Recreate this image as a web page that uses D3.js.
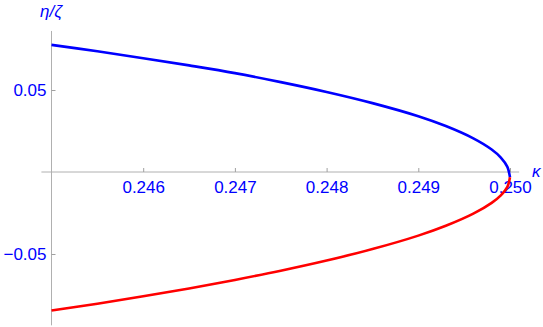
<!DOCTYPE html>
<html lang="en">
<head>
<meta charset="utf-8">
<title>eta/zeta vs kappa</title>
<style>
  body { margin: 0; background: #fff; }
  svg { display: block; font-family: "Liberation Sans", Arial, sans-serif; }
  .tick text { fill: #0000ff; font-size: 17px; font-family: "Liberation Sans", Arial, sans-serif; }
  .tick line { stroke: #a0a0a0; }
</style>
</head>
<body>
<svg></svg>
<script src="https://d3js.org/d3.v7.min.js"></script>
<script>
// kappa sample points (shared by both branches)
var kappa = [0.245, 0.2455, 0.246, 0.2465, 0.247, 0.2475, 0.248, 0.2485, 0.249, 0.2493, 0.2496, 0.2498, 0.2499, 0.24997, 0.25];
// upper branch (blue), eta/zeta
var etaUpper = [0.0775, 0.0736, 0.0694, 0.0650, 0.0603, 0.0548, 0.0488, 0.0420, 0.0340, 0.0280, 0.0205, 0.0137, 0.0088, 0.0033, -0.0032];
// lower branch (red), eta/zeta
var etaLower = [-0.0845, -0.0803, -0.0758, -0.0710, -0.0658, -0.0602, -0.0540, -0.0470, -0.0388, -0.0328, -0.0254, -0.0188, -0.0142, -0.0092, -0.0032];

var xMajor = [0.246, 0.247, 0.248, 0.249, 0.250];
var yMajor = [-0.05, 0.05];

var width = 543, height = 327;

var svg = d3.select("svg")
  .attr("width", width)
  .attr("height", height);

var x = d3.scaleLinear().domain([0.245, 0.25]).range([51.5, 510]);
var y = d3.scaleLinear().domain([-0.05, 0.05]).range([254, 90]);

// minor ticks
var xMinor = d3.range(0.2452, 0.25005, 0.0002).filter(function(v) {
  return xMajor.every(function(m) { return Math.abs(m - v) > 1e-7; });
});
var yMinor = d3.range(-0.09, 0.0805, 0.01).filter(function(v) {
  return Math.abs(v) > 1e-7 && yMajor.every(function(m) { return Math.abs(m - v) > 1e-7; });
});

var y0 = y(0), x0 = x(0.245);

// axis lines
svg.append("line")
  .attr("x1", x(0.24489)).attr("x2", x(0.2501))
  .attr("y1", y0).attr("y2", y0)
  .attr("stroke", "#b0b0b0");
svg.append("line")
  .attr("x1", x0).attr("x2", x0)
  .attr("y1", y(0.086)).attr("y2", y(-0.0935))
  .attr("stroke", "#b0b0b0");

// x axis ticks
var gx = svg.append("g").attr("transform", "translate(0," + y0 + ")");
gx.call(d3.axisBottom(x).tickValues(xMinor).tickSizeInner(-2.5).tickSizeOuter(0).tickFormat(""));
gx.call(d3.axisBottom(x).tickValues(xMajor).tickSizeInner(-4).tickSizeOuter(0).tickPadding(9).tickFormat(d3.format(".3f")));
gx.selectAll(".domain").remove();

// y axis ticks
var gy = svg.append("g").attr("transform", "translate(" + x0 + ",0)");
gy.call(d3.axisLeft(y).tickValues(yMinor).tickSizeInner(-2.5).tickSizeOuter(0).tickFormat(""));
gy.call(d3.axisLeft(y).tickValues(yMajor).tickSizeInner(-4).tickSizeOuter(0).tickPadding(5)
  .tickFormat(function(d) { return d < 0 ? "\u2212" + d3.format(".2f")(-d) : d3.format(".2f")(d); }));
gy.selectAll(".domain").remove();
gy.selectAll(".tick text").attr("dy", "0.35em");

// curves
var line = d3.line()
  .x(function(d) { return x(d[0]); })
  .y(function(d) { return y(d[1]); })
  .curve(d3.curveCatmullRom.alpha(0.5));

svg.append("path")
  .datum(d3.zip(kappa, etaUpper))
  .attr("d", line)
  .attr("fill", "none")
  .attr("stroke", "#0000ff")
  .attr("stroke-width", 2.6);

svg.append("path")
  .datum(d3.zip(kappa, etaLower))
  .attr("d", line)
  .attr("fill", "none")
  .attr("stroke", "#ff0000")
  .attr("stroke-width", 2.6);

// axis labels
svg.append("text")
  .attr("x", 51).attr("y", 17)
  .attr("text-anchor", "middle")
  .attr("font-size", 17)
  .attr("font-style", "italic")
  .attr("fill", "#0000ff")
  .text("\u03b7/\u03b6");

svg.append("text")
  .attr("x", 532).attr("y", 177)
  .attr("font-size", 17)
  .attr("font-style", "italic")
  .attr("fill", "#0000ff")
  .text("\u03ba");
</script>
</body>
</html>
